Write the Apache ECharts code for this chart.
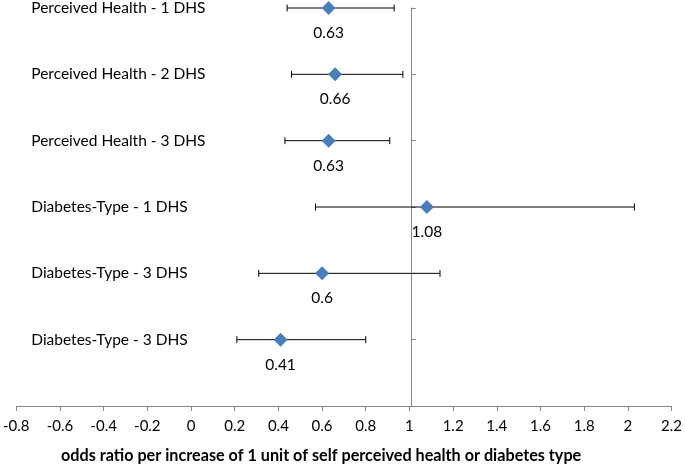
<!DOCTYPE html>
<html><head><meta charset="utf-8">
<script src="https://cdn.jsdelivr.net/npm/echarts@6/dist/echarts.min.js"></script>
<style>html,body{margin:0;padding:0;background:#fff}#c{width:685px;height:464px}</style>
</head><body><div id="c"></div>
<script>
var categories = ['Perceived Health - 1 DHS','Perceived Health - 2 DHS','Perceived Health - 3 DHS','Diabetes-Type - 1 DHS','Diabetes-Type - 3 DHS','Diabetes-Type - 3 DHS'];
var oddsRatio = [0.63, 0.66, 0.63, 1.08, 0.6, 0.41];
var ciLow = [0.44, 0.46, 0.43, 0.57, 0.31, 0.21];
var ciHigh = [0.93, 0.97, 0.91, 2.03, 1.14, 0.80];
var xMin = -0.8, xMax = 2.2, xStep = 0.2;
var axisTitle = 'odds ratio per increase of 1 unit of self perceived health or diabetes type';

var FONT = 'Lato';
var n = categories.length;
var pts = oddsRatio.map(function(v,i){ return [v, n - i]; });
var bars = categories.map(function(c,i){ return [ciLow[i], ciHigh[i], n - i]; });

var chart = echarts.init(document.getElementById('c'));
var gridLeft = 14;
var option = {
  animation: false,
  textStyle: {fontFamily: FONT},
  grid: {left: gridLeft, right: 12, top: 7, bottom: 58},
  title: {text: axisTitle, left: 56, top: 443, textStyle: {fontFamily: FONT, fontSize: 16.2, fontWeight: 'bold', color: '#000'}},
  xAxis: {
    type: 'value', min: xMin, max: xMax, interval: xStep,
    axisLine: {onZero: false, lineStyle: {color: '#868686', width: 1}},
    axisTick: {show: true, length: 5, lineStyle: {color: '#868686'}},
    axisLabel: {color: '#000', fontSize: 15, fontFamily: FONT, margin: 13,
      formatter: function(v){ return String(Math.round(v*10)/10); }},
    splitLine: {show: false}
  },
  yAxis: [{
    type: 'value', min: 0, max: n, interval: 1, position: 'left', offset: 0,
    axisLine: {show: true, onZero: false, lineStyle: {color: '#868686', width: 1}},
    axisTick: {show: true, inside: true, length: 4, lineStyle: {color: '#868686'}},
    axisLabel: {show: false},
    splitLine: {show: false}
  }, {
    type: 'value', min: 0, max: n, interval: 1, position: 'left',
    axisLine: {show: false}, axisTick: {show: false}, splitLine: {show: false},
    axisLabel: {inside: true, align: 'left', margin: 15, color: '#000', fontSize: 15.5, fontFamily: FONT,
      showMinLabel: true, showMaxLabel: true,
      formatter: function(v){ var i = n - v; return (i >= 0 && i < n) ? categories[i] : ''; }}
  }],
  series: [{
    type: 'custom',
    yAxisIndex: 0,
    data: bars,
    renderItem: function(params, api){
      var y = api.value(2);
      var a = api.coord([api.value(0), y]);
      var b = api.coord([api.value(1), y]);
      var h = 3.5;
      var st = {stroke: '#000', lineWidth: 1};
      return {type: 'group', children: [
        {type: 'line', shape: {x1: a[0], y1: a[1], x2: b[0], y2: b[1]}, style: st},
        {type: 'line', shape: {x1: a[0], y1: a[1]-h, x2: a[0], y2: a[1]+h}, style: st},
        {type: 'line', shape: {x1: b[0], y1: b[1]-h, x2: b[0], y2: b[1]+h}, style: st}
      ]};
    },
    z: 2
  }, {
    type: 'scatter',
    yAxisIndex: 0,
    data: pts,
    symbol: 'diamond', symbolSize: 14,
    itemStyle: {color: '#4A7EBB', opacity: 1},
    label: {show: true, position: 'bottom', distance: 10, color: '#000', fontSize: 15.5, fontFamily: FONT,
      formatter: function(p){ return String(p.value[0]); }},
    z: 3
  }]
};
chart.setOption(option);
var px = chart.convertToPixel({xAxisIndex: 0}, 1);
chart.setOption({yAxis: [{offset: -(px - gridLeft)}, {}]});
</script></body></html>
